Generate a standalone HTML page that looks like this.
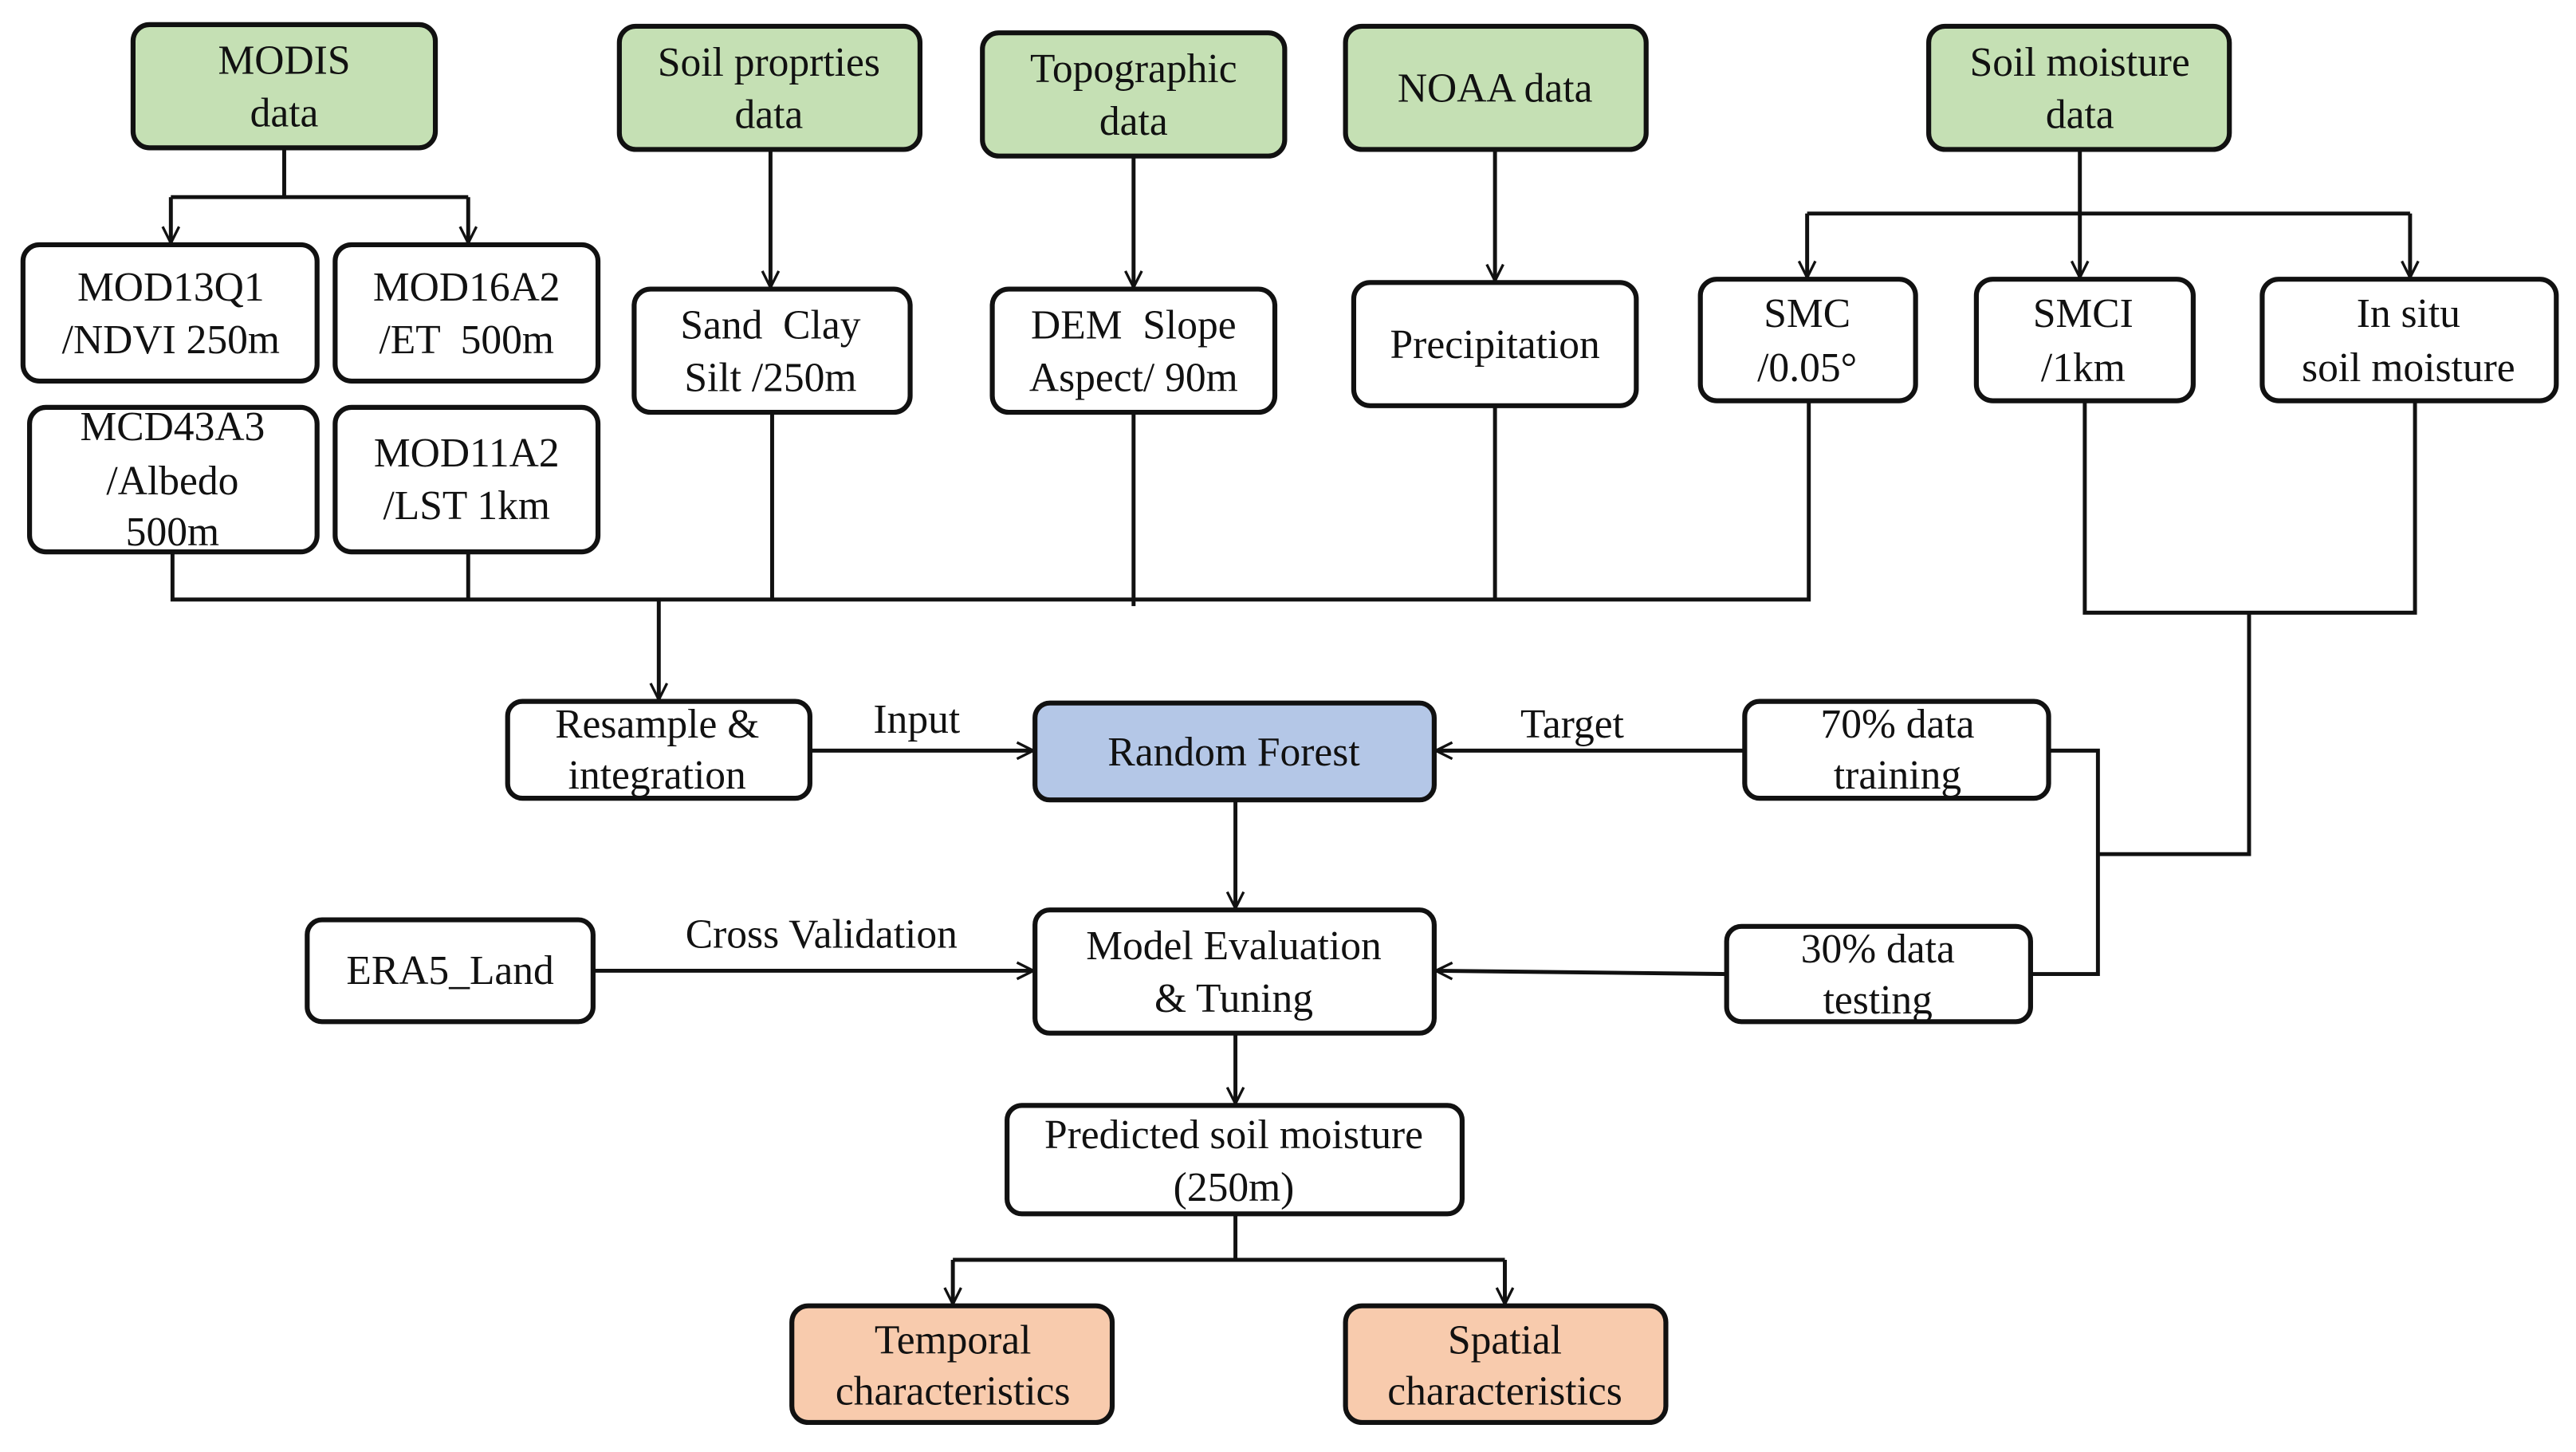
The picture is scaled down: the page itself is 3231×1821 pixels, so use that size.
<!DOCTYPE html>
<html><head><meta charset="utf-8"><style>
html,body{margin:0;padding:0;background:#fff;}
#w{position:relative;width:3231px;height:1821px;overflow:hidden;}
svg{display:block;position:absolute;left:0;top:0;}
#t{position:absolute;left:0;top:0;width:1568px;height:884px;transform-origin:0 0;transform:scale(2.0606,2.0600);}
#t div{position:absolute;font-family:"Liberation Serif","Times New Roman",Times,serif;font-size:25px;line-height:25px;color:#111;white-space:pre;transform:translateX(-50%);}
</style></head><body><div id="w">
<svg width="3231" height="1821" viewBox="0 0 1568 884" preserveAspectRatio="none" xmlns="http://www.w3.org/2000/svg">
<defs>
<marker id="a" viewBox="0 0 12 12" refX="11" refY="6" markerWidth="12" markerHeight="12" markerUnits="userSpaceOnUse" orient="auto">
<path d="M1,1 L11,6 L1,11" fill="none" stroke="#111" stroke-width="1.6"/>
</marker>
</defs>
<g fill="none" stroke="#111" stroke-width="2.4">
<path d="M173,90 V120 M104,120 H285"/>
<path d="M104,120 V148" marker-end="url(#a)"/>
<path d="M285,120 V148" marker-end="url(#a)"/>
<path d="M469,91 V175" marker-end="url(#a)"/>
<path d="M690,95 V175" marker-end="url(#a)"/>
<path d="M910,91 V171" marker-end="url(#a)"/>
<path d="M1266,91 V130 M1100,130 H1467"/>
<path d="M1100,130 V169" marker-end="url(#a)"/>
<path d="M1266,130 V169" marker-end="url(#a)"/>
<path d="M1467,130 V169" marker-end="url(#a)"/>
<path d="M105,336 V365 H1101 V244 M285,336 V365 M470,251 V365 M690,251 V369 M910,247 V365"/>
<path d="M401,365 V426" marker-end="url(#a)"/>
<path d="M1269,244 V373 H1470 V244 M1369,373 V520 H1277 M1247,457 H1277 V593 H1236"/>
<path d="M493,457 H629" marker-end="url(#a)"/>
<path d="M1062,457 H874" marker-end="url(#a)"/>
<path d="M752,487 V553" marker-end="url(#a)"/>
<path d="M361,591 H629" marker-end="url(#a)"/>
<path d="M1051,593 L874,591" marker-end="url(#a)"/>
<path d="M752,629 V672" marker-end="url(#a)"/>
<path d="M752,739 V767 M580,767 H916"/>
<path d="M580,767 V794" marker-end="url(#a)"/>
<path d="M916,767 V794" marker-end="url(#a)"/>
</g>
<g stroke="#111" stroke-width="3">
<rect x="81" y="15" width="184" height="75" rx="10" fill="#c5e0b4"/>
<rect x="377" y="16" width="183" height="75" rx="10" fill="#c5e0b4"/>
<rect x="598" y="20" width="184" height="75" rx="10" fill="#c5e0b4"/>
<rect x="819" y="16" width="183" height="75" rx="10" fill="#c5e0b4"/>
<rect x="1174" y="16" width="183" height="75" rx="10" fill="#c5e0b4"/>
<rect x="14" y="149" width="179" height="83" rx="10" fill="#fff"/>
<rect x="204" y="149" width="160" height="83" rx="10" fill="#fff"/>
<rect x="18" y="248" width="175" height="88" rx="10" fill="#fff"/>
<rect x="204" y="248" width="160" height="88" rx="10" fill="#fff"/>
<rect x="386" y="176" width="168" height="75" rx="10" fill="#fff"/>
<rect x="604" y="176" width="172" height="75" rx="10" fill="#fff"/>
<rect x="824" y="172" width="172" height="75" rx="10" fill="#fff"/>
<rect x="1035" y="170" width="131" height="74" rx="10" fill="#fff"/>
<rect x="1203" y="170" width="132" height="74" rx="10" fill="#fff"/>
<rect x="1377" y="170" width="179" height="74" rx="10" fill="#fff"/>
<rect x="309" y="427" width="184" height="59" rx="9" fill="#fff"/>
<rect x="630" y="428" width="243" height="59" rx="9" fill="#b4c7e7"/>
<rect x="1062" y="427" width="185" height="59" rx="9" fill="#fff"/>
<rect x="187" y="560" width="174" height="62" rx="9" fill="#fff"/>
<rect x="630" y="554" width="243" height="75" rx="9" fill="#fff"/>
<rect x="1051" y="564" width="185" height="58" rx="9" fill="#fff"/>
<rect x="613" y="673" width="277" height="66" rx="9" fill="#fff"/>
<rect x="482" y="795" width="195" height="71" rx="10" fill="#f8cbad"/>
<rect x="819" y="795" width="195" height="71" rx="10" fill="#f8cbad"/>
</g>
</svg>
<div id="t">
<div style="left:173px;top:25px">MODIS</div><div style="left:173px;top:57px">data</div>
<div style="left:468px;top:26px">Soil proprties</div><div style="left:468px;top:58px">data</div>
<div style="left:690px;top:30px">Topographic</div><div style="left:690px;top:62px">data</div>
<div style="left:910px;top:42px">NOAA data</div>
<div style="left:1266px;top:26px">Soil moisture</div><div style="left:1266px;top:58px">data</div>
<div style="left:104px;top:163px">MOD13Q1</div><div style="left:104px;top:195px">/NDVI 250m</div>
<div style="left:284px;top:163px">MOD16A2</div><div style="left:284px;top:195px">/ET  500m</div>
<div style="left:105px;top:248px">MCD43A3</div><div style="left:105px;top:281px">/Albedo</div><div style="left:105px;top:312px">500m</div>
<div style="left:284px;top:264px">MOD11A2</div><div style="left:284px;top:296px">/LST 1km</div>
<div style="left:469px;top:186px">Sand  Clay</div><div style="left:469px;top:218px">Silt /250m</div>
<div style="left:690px;top:186px">DEM  Slope</div><div style="left:690px;top:218px">Aspect/ 90m</div>
<div style="left:910px;top:198px">Precipitation</div>
<div style="left:1100px;top:179px">SMC</div><div style="left:1100px;top:212px">/0.05°</div>
<div style="left:1268px;top:179px">SMCI</div><div style="left:1268px;top:212px">/1km</div>
<div style="left:1466px;top:179px">In situ</div><div style="left:1466px;top:212px">soil moisture</div>
<div style="left:400px;top:429px">Resample &amp;</div><div style="left:400px;top:460px">integration</div>
<div style="left:751px;top:446px">Random Forest</div>
<div style="left:1155px;top:429px">70% data</div><div style="left:1155px;top:460px">training</div>
<div style="left:274px;top:579px">ERA5_Land</div>
<div style="left:751px;top:564px">Model Evaluation</div><div style="left:751px;top:596px">&amp; Tuning</div>
<div style="left:1143px;top:566px">30% data</div><div style="left:1143px;top:597px">testing</div>
<div style="left:751px;top:679px">Predicted soil moisture</div><div style="left:751px;top:711px">(250m)</div>
<div style="left:580px;top:804px">Temporal</div><div style="left:580px;top:835px">characteristics</div>
<div style="left:916px;top:804px">Spatial</div><div style="left:916px;top:835px">characteristics</div>
<div style="left:558px;top:426px">Input</div>
<div style="left:957px;top:429px">Target</div>
<div style="left:500px;top:557px">Cross Validation</div>
</div>
</div></body></html>
